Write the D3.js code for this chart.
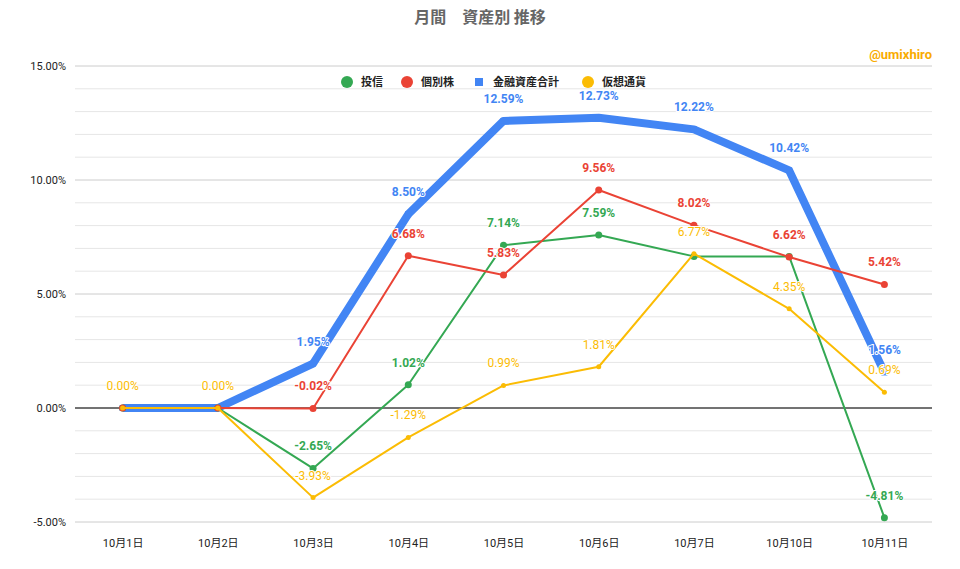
<!DOCTYPE html>
<html><head><meta charset="utf-8">
<script src="https://cdn.jsdelivr.net/npm/d3@7"></script>
<style>body{margin:0;background:#fff;font-family:Roboto,"Noto Sans CJK JP",sans-serif}</style>
</head><body><svg id="c" width="960" height="569"></svg>
<script>
const categories=["10月1日","10月2日","10月3日","10月4日","10月5日","10月6日","10月7日","10月10日","10月11日"];
const toushin=[0,0,-2.65,1.02,7.14,7.59,6.65,6.65,-4.81];
const kobetsu=[0,0,-0.02,6.68,5.83,9.56,8.02,6.62,5.42];
const goukei=[0,0,1.95,8.50,12.59,12.73,12.22,10.42,1.56];
const kasou=[0,0,-3.93,-1.29,0.99,1.81,6.77,4.35,0.69];
const yTicks=[-5,0,5,10,15];
const series=[
 {name:"金融資産合計",v:goukei,c:"#4285f4",w:8,bold:true,labels:[null,null,1,1,1,1,1,1,1],sq:true},
 {name:"投信",v:toushin,c:"#34a853",w:2,bold:true,r:3.5,labels:[null,null,1,1,1,1,0,0,1]},
 {name:"個別株",v:kobetsu,c:"#ea4335",w:2,bold:true,r:3.5,labels:[null,null,1,1,1,1,1,1,1]},
 {name:"仮想通貨",v:kasou,c:"#fbbc04",w:2,bold:false,r:2.5,labels:[1,1,1,1,1,1,1,1,1]}
];
const svg=d3.select("#c");
const L=75,R=932,T=66,B=522;
const x=d3.scalePoint().domain(categories).range([L,R]).padding(0.5);
const y=d3.scaleLinear().domain([-5,15]).range([B,T]);
const g=svg.append("g");
g.selectAll("line.minor").data(d3.range(-5,15.01,1)).enter().append("line")
 .attr("x1",L).attr("x2",R).attr("y1",d=>y(d)).attr("y2",d=>y(d))
 .attr("stroke",d=>d%5===0?"#ccc":"#e6e6e6").attr("stroke-width",1);
g.append("line").attr("x1",L).attr("x2",R).attr("y1",y(0)).attr("y2",y(0)).attr("stroke","#000");
const ya=d3.axisLeft(y).tickValues(yTicks).tickFormat(d=>d.toFixed(2)+"%").tickSize(0);
svg.append("g").attr("transform",`translate(${L-6},0)`).call(ya).call(a=>a.select(".domain").remove())
 .selectAll("text").attr("font-size",11).attr("fill","#222").attr("font-family","Roboto");
const xa=d3.axisBottom(x).tickSize(0);
svg.append("g").attr("transform",`translate(0,${B+14})`).call(xa).call(a=>a.select(".domain").remove())
 .selectAll("text").attr("font-size",11).attr("fill","#222").attr("font-family","Roboto,'Noto Sans CJK JP'");
const line=d3.line().x((d,i)=>x(categories[i])).y(d=>y(d));
series.forEach(s=>{
 svg.append("path").datum(s.v).attr("d",line).attr("fill","none").attr("stroke",s.c).attr("stroke-width",s.w).attr("stroke-linejoin","round");
 if(s.sq){
  svg.selectAll(null).data(s.v).enter().append("rect").attr("x",(d,i)=>x(categories[i])-3).attr("y",d=>y(d)-3).attr("width",6).attr("height",6).attr("fill",s.c);
 } else {
  svg.selectAll(null).data(s.v).enter().append("circle").attr("cx",(d,i)=>x(categories[i])).attr("cy",d=>y(d)).attr("r",s.r).attr("fill",s.c);
 }
});
series.forEach(s=>{
 svg.selectAll(null).data(s.v.map((v,i)=>({v,i})).filter(d=>s.labels[d.i])).enter().append("text")
  .attr("x",d=>x(categories[d.i])).attr("y",d=>y(d.v)-18).attr("text-anchor","middle")
  .attr("font-size",12).attr("font-weight",s.bold?"bold":"normal").attr("fill",s.c)
  .attr("stroke","#fff").attr("stroke-width",2).attr("paint-order","stroke")
  .text(d=>d.v.toFixed(2)+"%");
});
svg.append("text").attr("x",480).attr("y",23).attr("text-anchor","middle").attr("font-size",16).attr("font-weight","bold").attr("fill","#666")
 .attr("font-family","'Noto Sans CJK JP'").text("月間　資産別 推移");
svg.append("text").attr("x",932).attr("y",59).attr("text-anchor","end").attr("font-size",13).attr("font-weight","bold").attr("fill","#f9ab00").text("@umixhiro");
const leg=[{n:"投信",c:"#34a853",x:347},{n:"個別株",c:"#ea4335",x:407},{n:"金融資産合計",c:"#4285f4",x:479,sq:true},{n:"仮想通貨",c:"#fbbc04",x:588}];
leg.forEach(l=>{
 if(l.sq) svg.append("rect").attr("x",l.x-4).attr("y",78).attr("width",8).attr("height",8).attr("fill",l.c);
 else svg.append("circle").attr("cx",l.x).attr("cy",82).attr("r",6).attr("fill",l.c);
 svg.append("text").attr("x",l.x+14).attr("y",86).attr("font-size",11).attr("font-weight","bold").attr("fill","#222")
  .attr("font-family","'Noto Sans CJK JP'").text(l.n);
});
</script></body></html>
